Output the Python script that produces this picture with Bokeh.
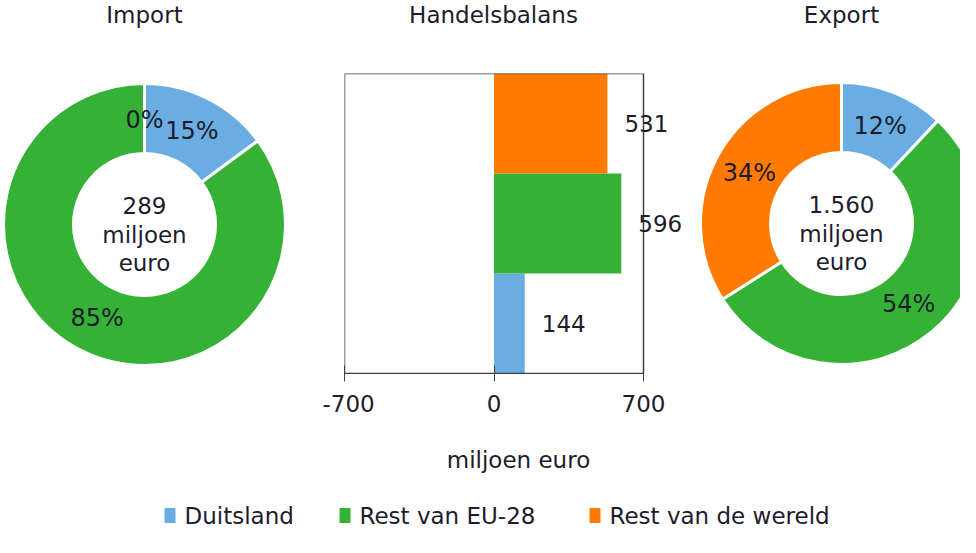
import math
from bokeh.plotting import figure
from bokeh.layouts import column, row
from bokeh.models import Range1d, ColumnDataSource, LabelSet, FixedTicker
from bokeh.core.properties import value
from bokeh.embed import file_html
from bokeh.resources import INLINE

# ---------------- data ----------------
categories = ["Duitsland", "Rest van EU-28", "Rest van de wereld"]
import_values = [43, 246, 0]          # miljoen euro
export_values = [187, 842, 531]       # miljoen euro
balance_values = [144, 596, 531]      # miljoen euro
colors = ["#69ADE2", "#35B235", "#FF7A00"]
panel_titles = ["Import", "Handelsbalans", "Export"]
unit_label = "miljoen euro"
balance_ticks = [-700, 0, 700]

# ---------------- style / layout ----------------
FONT = "DejaVu Sans"
TXT = "#1c1c2c"
AX = "#404040"
PAGE_H = 553
TOP = 8
HEADER_H = 40
ROW_H = 447
LEGEND_H = 50
FRAME_TOP = 81      # page y of the bar frame top
FRAME_BOT = 381     # page y of the bar frame bottom
ROW_TOP = TOP + HEADER_H
BT = FRAME_TOP - ROW_TOP
BB = ROW_TOP + ROW_H - FRAME_BOT


def canvas(w, h, x0, y_top, bt=0, bb=0):
    fh = h - bt - bb
    fy_top = y_top + bt
    p = figure(width=w, height=h, title=None,
               x_range=Range1d(x0, x0 + w),
               y_range=Range1d(PAGE_H - (fy_top + fh), PAGE_H - fy_top),
               output_backend="svg", toolbar_location=None,
               x_axis_location=None, y_axis_location=None,
               min_border_left=0, min_border_right=0,
               min_border_top=bt, min_border_bottom=bb)
    p.outline_line_color = None
    p.grid.visible = False
    return p


def fmt_total(t):
    return f"{t:,}".replace(",", ".")


def donut(p, cx_page, cy_page, vals):
    cx, cy = cx_page, PAGE_H - cy_page
    total = sum(vals)
    r_out, r_in, r_lab = 141, 71, 105
    xs, ys, a0s, a1s, cols = [], [], [], [], []
    lx, ly, lt = [], [], []
    c = 0
    for v, col in zip(vals, colors):
        f0 = c / total
        c += v
        f1 = c / total
        if v > 0:
            xs.append(cx); ys.append(cy)
            a0s.append(math.pi / 2 - 2 * math.pi * f0)
            a1s.append(math.pi / 2 - 2 * math.pi * f1)
            cols.append(col)
        th = math.pi / 2 - 2 * math.pi * (f0 + f1) / 2
        lx.append(cx + r_lab * math.cos(th))
        ly.append(cy + r_lab * math.sin(th))
        lt.append(f"{round(100 * v / total)}%")
    p.annular_wedge(x=xs, y=ys, inner_radius=r_in, outer_radius=r_out,
                    start_angle=a0s, end_angle=a1s, direction="clock",
                    fill_color=cols, line_color="white", line_width=3)
    p.text(x=lx, y=ly, text=lt, text_align="center", text_baseline="middle",
           text_font=value(FONT), text_font_size="24px", text_color=TXT)
    lines = [fmt_total(total), "miljoen", "euro"]
    offs = [-19, 10, 38]
    p.text(x=[cx] * 3, y=[cy - o for o in offs], text=lines,
           text_align="center", text_baseline="middle",
           text_font=value(FONT), text_font_size="23px", text_color=TXT)


# ---------------- header with titles ----------------
header = canvas(960, HEADER_H, 8, TOP)
title_x = [152, 501, 849]
header.text(x=title_x, y=[PAGE_H - 22] * 3, text=panel_titles,
            text_align="center", text_baseline="middle",
            text_font=value(FONT), text_font_size="23px", text_color=TXT)

# ---------------- import donut ----------------
p1 = canvas(322, ROW_H, 8, ROW_TOP, BT, BB)
donut(p1, 152, 232, import_values)

# ---------------- balance bars ----------------
P2_X0, P2_W = 330, 370
AX_LEFT, AX_RIGHT = 352, 651          # page x of -700 and 700
frame_w = P2_X0 + P2_W - AX_LEFT
span = balance_ticks[-1] - balance_ticks[0]
x_end = balance_ticks[0] + span * frame_w / (AX_RIGHT - AX_LEFT)
n = len(categories)
p2 = figure(width=P2_W, height=ROW_H, title=None,
            x_range=Range1d(balance_ticks[0], x_end),
            y_range=Range1d(0, n),
            output_backend="svg", toolbar_location=None,
            y_axis_location=None,
            min_border_left=AX_LEFT - P2_X0, min_border_right=0,
            min_border_top=BT, min_border_bottom=BB)
src = ColumnDataSource(dict(cat=categories, pos=[i + 0.5 for i in range(n)],
                            val=balance_values, col=colors,
                            txt=[str(v) for v in balance_values]))
p2.hbar(y="pos", left=0, right="val", height=1.0, fill_color="col",
        line_color=None, source=src)
p2.quad(left=[balance_ticks[0]], right=[balance_ticks[-1]], bottom=[0], top=[n],
        fill_color=None, line_color=AX, line_width=1.5)
p2.add_layout(LabelSet(x="val", y="pos", text="txt", x_offset=17,
                       text_baseline="middle", text_align="left",
                       text_font=value(FONT), text_font_size="23px",
                       text_color=TXT, source=src))
p2.grid.visible = False
p2.outline_line_color = None
xa = p2.xaxis[0]
xa.ticker = FixedTicker(ticks=balance_ticks)
xa.bounds = (balance_ticks[0], balance_ticks[-1])
xa.major_label_overrides = {t: str(t) for t in balance_ticks}
xa.minor_tick_line_color = None
xa.major_tick_in = 8
xa.major_tick_out = 8
xa.major_tick_line_color = AX
xa.axis_line_color = AX
xa.major_label_standoff = 13
xa.major_label_text_font = FONT
xa.major_label_text_font_size = "23px"
xa.major_label_text_color = TXT
xa.axis_label = unit_label
xa.axis_label_standoff = 32
xa.axis_label_text_font = FONT
xa.axis_label_text_font_size = "23px"
xa.axis_label_text_font_style = "normal"
xa.axis_label_text_color = TXT

# ---------------- export donut ----------------
p3 = canvas(268, ROW_H, 700, ROW_TOP, BT, BB)
donut(p3, 849, 231, export_values)

# ---------------- legend ----------------
leg_top = ROW_TOP + ROW_H
pl = canvas(960, LEGEND_H, 8, leg_top)
sq_left = [172, 347, 597]
pl.rect(x=[s + 5.5 for s in sq_left], y=[PAGE_H - 523] * 3, width=11, height=15,
        fill_color=colors, line_color=None)
pl.text(x=[s + 20 for s in sq_left], y=[PAGE_H - 523] * 3, text=categories,
        text_align="left", text_baseline="middle",
        text_font=value(FONT), text_font_size="23px", text_color=TXT)

layout = column(header, row(p1, p2, p3), pl)
open("out.html", "w").write(file_html(layout, INLINE))
